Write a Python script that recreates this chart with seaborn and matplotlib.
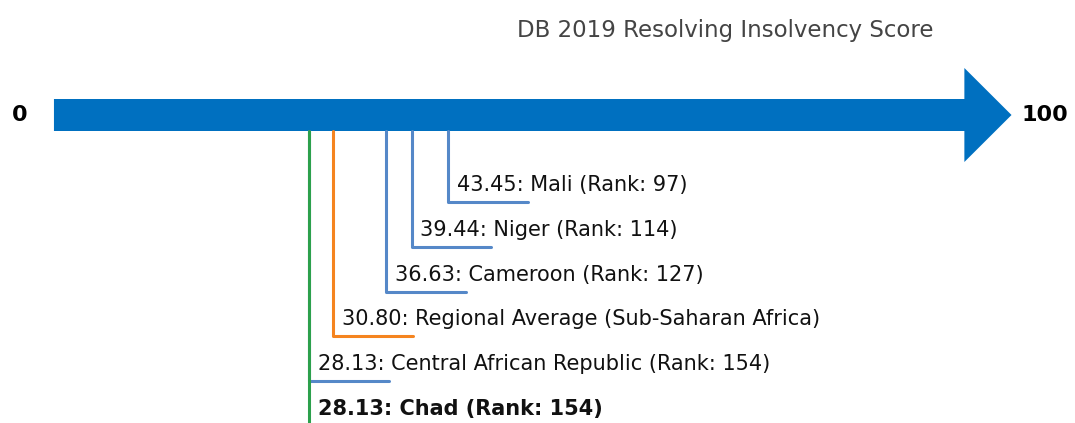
import numpy as np
import pandas as pd
import matplotlib
matplotlib.use("Agg")
import matplotlib.pyplot as plt
import seaborn as sns

# values
names = ["Mali", "Niger", "Cameroon", "Regional Average (Sub-Saharan Africa)",
         "Central African Republic", "Chad"]
scores = [43.45, 39.44, 36.63, 30.80, 28.13, 28.13]
ranks = [97, 114, 127, None, 154, 154]
kinds = ["peer", "peer", "peer", "region", "peer", "focus"]

title = "DB 2019 Resolving Insolvency Score"
x_min, x_max = 0, 100

palette = {"peer": "#5588c8", "region": "#f5841f", "focus": "#2ca04c"}
arrow_color = "#0070c0"

sns.set_style("white")
plt.rcParams["font.family"] = ["DejaVu Sans"]

fig = plt.figure(figsize=(10.75, 4.23), dpi=100)
ax = fig.add_axes([0, 0, 1, 1])

# big arrow (shaft 0..100 then a head)
shaft_top, shaft_bot = 99, 131
head_top, head_bot = 68, 162
head_base = x_max + 0.4
head_tip = x_max + 5.6
arrow_x = [x_min, head_base, head_base, head_tip, head_base, head_base, x_min]
arrow_y = [shaft_top, shaft_top, head_top, (shaft_top + shaft_bot) / 2,
           head_bot, shaft_bot, shaft_bot]
ax.fill(arrow_x, arrow_y, color=arrow_color, lw=0)

ax.text(-3.8, 115, str(x_min), ha="center", va="center", fontsize=16, fontweight="bold",
        color="black")
ax.text(x_max + 9.3, 115, str(x_max), ha="center", va="center", fontsize=16,
        fontweight="bold", color="black")
ax.text(74, 31, title, ha="center", va="center", fontsize=16.5, color="#444444")

# connector lines: down from the arrow, then a short underline
row_gap = 44.8
first_under = 202
under_len = 8.8
rows = []
for i, (s, k) in enumerate(zip(scores, kinds)):
    yb = first_under + i * row_gap
    rows += [(i, k, s, shaft_bot), (i, k, s, yb), (i, k, s + under_len, yb)]
df = pd.DataFrame(rows, columns=["item", "kind", "x", "y"])
sns.lineplot(data=df, x="x", y="y", units="item", hue="kind", palette=palette,
             estimator=None, sort=False, lw=2.2, legend=False, ax=ax)

for i, (n, s, r, k) in enumerate(zip(names, scores, ranks, kinds)):
    label = f"{s:.2f}: {n}" if r is None else f"{s:.2f}: {n} (Rank: {r})"
    yb = first_under + i * row_gap
    ax.text(s + 0.95, yb - 17, label, ha="left", va="center", fontsize=15,
            fontweight="bold" if k == "focus" else "normal", color="#111111")

ax.set_xlim(-5.95, 112.6)
ax.set_ylim(423, 0)
ax.axis("off")

fig.savefig("out.png", dpi=100)
